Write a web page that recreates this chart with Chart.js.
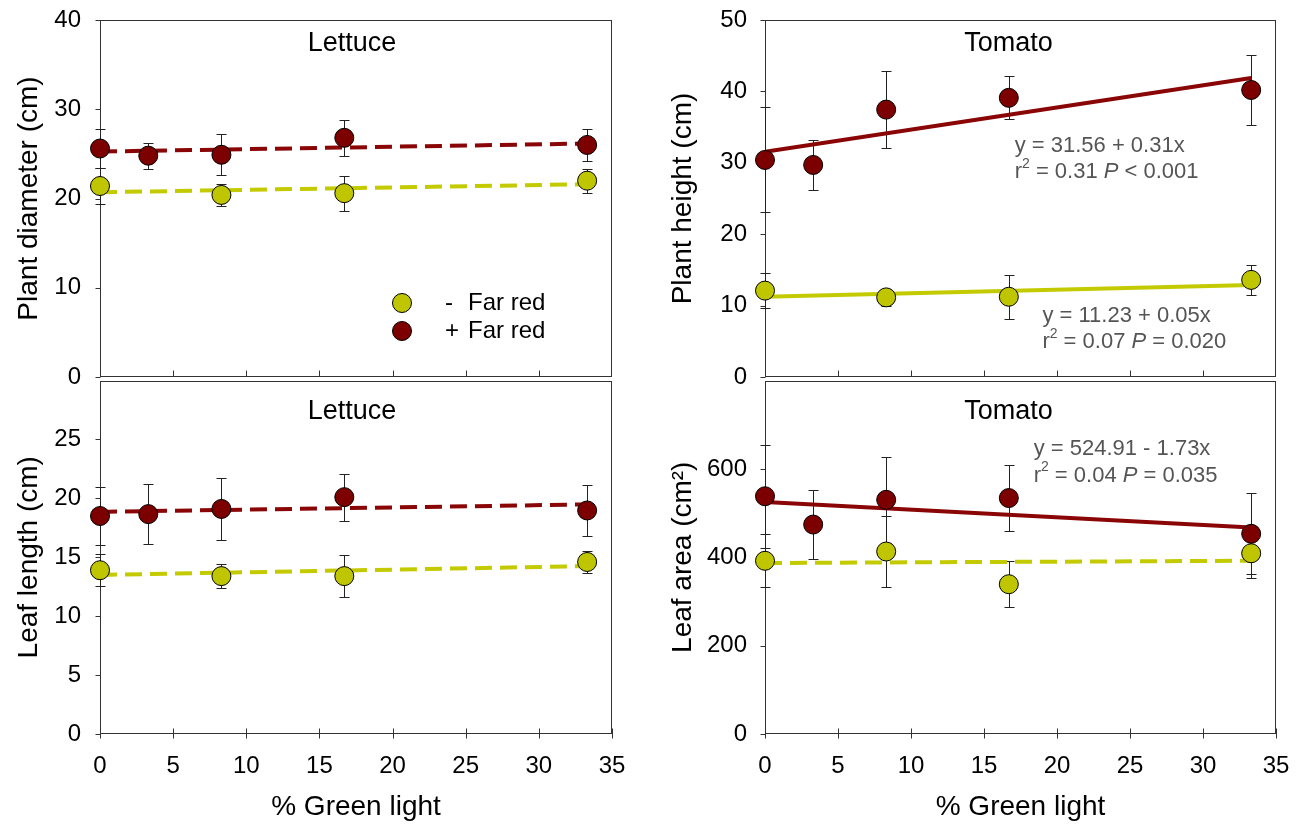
<!DOCTYPE html>
<html><head><meta charset="utf-8">
<script src="https://cdn.jsdelivr.net/npm/chart.js@4"></script>
<style>
html,body{margin:0;padding:0;background:#fff;}
#wrap{position:relative;width:1305px;height:824px;overflow:hidden;background:#fff;}
canvas{position:absolute;}
</style></head><body>
<div id="wrap">
<canvas id="cLT" width="650" height="390" style="left:0;top:0"></canvas>
<canvas id="cRT" width="655" height="390" style="left:650px;top:0"></canvas>
<canvas id="cLB" width="650" height="454" style="left:0;top:370px"></canvas>
<canvas id="cRB" width="655" height="454" style="left:650px;top:370px"></canvas>
</div>
<script>
// ---------- data ----------
const xTickValues = [0, 5, 10, 15, 20, 25, 30, 35];
const xRed   = [0, 3.3, 8.3, 16.7, 33.3];
const xGreen = [0, 8.3, 16.7, 33.3];
const trendX = [0, 33.3];
const seriesLabels = ['-', '+'];
const seriesName = 'Far red';

// Lettuce - plant diameter (cm)
const diamTicks    = [0, 10, 20, 30, 40];
const diamRed      = [25.6, 24.8, 24.9, 26.8, 26.0];
const diamRedErr   = [2.2, 1.45, 2.3, 2.0, 1.8];
const diamGreen    = [21.4, 20.4, 20.6, 22.0];
const diamGreenErr = [2.0, 1.2, 1.95, 1.35];
const diamRedFit   = [25.26, 0.027];   // intercept, slope
const diamGreenFit = [20.7, 0.027];

// Lettuce - leaf length (cm)
const lenTicks    = [0, 5, 10, 15, 20, 25];
const lenRed      = [18.5, 18.66, 19.1, 20.1, 18.97];
const lenRedErr   = [2.5, 2.55, 2.6, 2.0, 2.15];
const lenGreen    = [13.9, 13.4, 13.4, 14.6];
const lenGreenErr = [1.35, 1.05, 1.8, 0.95];
const lenRedFit   = [18.85, 0.019];
const lenGreenFit = [13.5, 0.0225];

// Tomato - plant height (cm)
const htTicks    = [0, 10, 20, 30, 40, 50];
const htRed      = [30.4, 29.7, 37.45, 39.1, 40.2];
const htRedErr   = [7.35, 3.5, 5.4, 3.0, 4.9];
const htGreen    = [12.1, 11.15, 11.24, 13.6];
const htGreenErr = [2.45, 1.2, 3.1, 2.05];
const htRedFit   = [31.56, 0.31];
const htGreenFit = [11.23, 0.05];

// Tomato - leaf area (cm2)
const laTicks    = [0, 200, 400, 600];
const laRed      = [538, 474, 530, 534, 453];
const laRedErr   = [117, 78, 97, 75, 92];
const laGreen    = [392, 413, 339, 409];
const laGreenErr = [60, 81, 52, 55];
const laRedFit   = [524.91, -1.73];
const laGreenFit = [387, 0.15];

// regression annotations: [x, y, text-parts]
const htAnnot = [
  [17.1, 32.4, [['y = 31.56 + 0.31x']]],
  [17.1, 28.7, [['r'], ['2', 'sup'], [' = 0.31 '], ['P', 'i'], [' < 0.001']]],
  [19.0, 8.6,  [['y = 11.23 + 0.05x']]],
  [19.0, 4.9,  [['r'], ['2', 'sup'], [' = 0.07 '], ['P', 'i'], [' = 0.020']]]
];
const laAnnot = [
  [18.4, 644, [['y = 524.91 - 1.73x']]],
  [18.4, 584, [['r'], ['2', 'sup'], [' = 0.04 '], ['P', 'i'], [' = 0.035']]]
];

// ---------- style ----------
const FONT = "'Liberation Sans', Arial, Helvetica, sans-serif";
const RED = '#7d0000';
const GREEN = '#bfc600';
const RED_LINE = '#8a0505';
const GREEN_LINE = '#c3cb00';
const DASH = [17, 8];
const TICK_SIZE = 24;
const TITLE_SIZE = 28;

// ---------- plugins ----------
const framePlugin = {
  id: 'frame',
  beforeDatasetsDraw(chart, args, opts) {
    const {ctx, chartArea: a, scales: {x, y}} = chart;
    ctx.save();
    ctx.strokeStyle = '#333';
    ctx.lineWidth = 1;
    const L = Math.round(a.left) + 0.5, R = Math.round(a.right) - 0.5;
    const T = Math.round(a.top) + 0.5, B = Math.round(a.bottom) - 0.5;
    ctx.strokeRect(L, T, R - L, B - T);
    ctx.beginPath();
    y.ticks.forEach(t => {
      const py = Math.round(y.getPixelForValue(t.value)) + 0.5;
      ctx.moveTo(L - 5, py); ctx.lineTo(L, py);
    });
    x.ticks.forEach((t, i) => {
      const px = Math.round(x.getPixelForValue(t.value)) + 0.5;
      if (opts.bottom) { ctx.moveTo(px, B - 5); ctx.lineTo(px, B + 5); }
      else if (i > 0 && i < x.ticks.length - 1) { ctx.moveTo(px, B - 6); ctx.lineTo(px, B); }
    });
    ctx.stroke();
    ctx.restore();
  }
};

const errorPlugin = {
  id: 'errorBars',
  beforeDatasetsDraw(chart) {
    const {ctx, scales: {x, y}} = chart;
    ctx.save();
    ctx.strokeStyle = '#222';
    ctx.lineWidth = 1;
    ctx.beginPath();
    chart.data.datasets.forEach(ds => {
      if (!ds.errors) return;
      ds.data.forEach((p, j) => {
        const e = ds.errors[j];
        const px = Math.round(x.getPixelForValue(p.x)) + 0.5;
        const y1 = Math.round(y.getPixelForValue(p.y + e)) + 0.5;
        const y2 = Math.round(y.getPixelForValue(p.y - e)) + 0.5;
        ctx.moveTo(px, y1); ctx.lineTo(px, y2);
        ctx.moveTo(px - 5, y1); ctx.lineTo(px + 5, y1);
        ctx.moveTo(px - 5, y2); ctx.lineTo(px + 5, y2);
      });
    });
    ctx.stroke();
    ctx.restore();
  }
};

function drawRich(ctx, parts, x, y, size) {
  let cx = x;
  parts.forEach(p => {
    const sup = p[1] === 'sup', it = p[1] === 'i';
    const fs = sup ? Math.round(size * 0.62) : size;
    ctx.font = (it ? 'italic ' : '') + fs + 'px ' + FONT;
    ctx.fillText(p[0], cx, sup ? y - size * 0.38 : y);
    cx += ctx.measureText(p[0]).width;
  });
}

const textPlugin = {
  id: 'texts',
  afterDatasetsDraw(chart, args, opts) {
    const {ctx, chartArea: a, scales: {x, y}} = chart;
    ctx.save();
    // panel title
    ctx.fillStyle = '#000';
    ctx.textAlign = 'center';
    ctx.textBaseline = 'middle';
    ctx.font = '27px ' + FONT;
    ctx.fillText(opts.title, (a.left + a.right) / 2 + opts.titleDx, a.top + opts.titleDy);
    // annotations
    ctx.textAlign = 'left';
    ctx.fillStyle = '#555';
    (opts.annot || []).forEach(an => {
      drawRich(ctx, an[2], x.getPixelForValue(an[0]), y.getPixelForValue(an[1]), 22);
    });
    // key
    if (opts.key) {
      const items = [[GREEN, seriesLabels[0], 0], [RED, seriesLabels[1], 28]];
      items.forEach(it => {
        const cx = a.left + 302, cy = a.top + 283 + it[2];
        ctx.beginPath();
        ctx.arc(cx, cy, 9.5, 0, Math.PI * 2);
        ctx.fillStyle = it[0];
        ctx.fill();
        ctx.strokeStyle = '#000';
        ctx.lineWidth = 1;
        ctx.stroke();
        ctx.fillStyle = '#000';
        ctx.font = '24px ' + FONT;
        ctx.fillText(it[1], a.left + (it[1] === '-' ? 345 : 345), cy);
        ctx.fillText(seriesName, a.left + 368, cy);
      });
    }
    ctx.restore();
  }
};

// ---------- builder ----------
const pts = (xs, ys) => xs.map((v, i) => ({x: v, y: ys[i]}));
const fitLine = f => trendX.map(v => ({x: v, y: f[0] + f[1] * v}));

function panel(id, o) {
  const zeroPad = s => { s.paddingLeft = 0; s.paddingRight = 0; s.paddingTop = 0; s.paddingBottom = 0; };
  return new Chart(document.getElementById(id), {
    type: 'scatter',
    data: {datasets: [
      {data: pts(xRed, o.red), errors: o.redErr, pointRadius: 9.5, pointHoverRadius: 9.5,
       backgroundColor: RED, borderColor: '#000', borderWidth: 1, order: 0, clip: false},
      {data: pts(xGreen, o.green), errors: o.greenErr, pointRadius: 9.5, pointHoverRadius: 9.5,
       backgroundColor: GREEN, borderColor: '#000', borderWidth: 1, order: 0, clip: false},
      {data: fitLine(o.redFit), showLine: true, pointRadius: 0, borderColor: RED_LINE,
       borderWidth: 4, borderDash: o.redDash ? DASH : [], order: 1},
      {data: fitLine(o.greenFit), showLine: true, pointRadius: 0, borderColor: GREEN_LINE,
       borderWidth: 4, borderDash: o.greenDash ? DASH : [], order: 1}
    ]},
    options: {
      responsive: false, animation: false, devicePixelRatio: 1, events: [],
      layout: {padding: o.pad},
      plugins: {
        legend: {display: false}, tooltip: {enabled: false},
        frame: {bottom: o.bottom},
        texts: {title: o.title, titleDx: o.titleDx, titleDy: o.titleDy, annot: o.annot, key: o.key}
      },
      scales: {
        x: {
          type: 'linear', min: 0, max: 35,
          grid: {display: false, drawTicks: false}, border: {display: false},
          afterBuildTicks: s => { s.ticks = xTickValues.map(v => ({value: v})); },
          ticks: {display: o.bottom, padding: 18, autoSkip: false, maxRotation: 0,
                  font: {family: FONT, size: TICK_SIZE}, color: '#000'},
          title: {display: o.bottom, text: '% Green light', color: '#000',
                  font: {family: FONT, size: TITLE_SIZE}, padding: {top: 0, bottom: 0}},
          afterFit: s => { s.height = o.xh; zeroPad(s); }
        },
        y: {
          type: 'linear', min: 0, max: o.ymax,
          grid: {display: false, drawTicks: false}, border: {display: false},
          afterBuildTicks: s => { s.ticks = o.yTicks.map(v => ({value: v})); },
          ticks: {padding: o.tickPad, autoSkip: false, font: {family: FONT, size: TICK_SIZE}, color: '#000'},
          title: {display: true, text: o.ytitle, color: '#000',
                  font: {family: FONT, size: TITLE_SIZE}, padding: {top: o.titlePad, bottom: 0}},
          afterFit: s => { s.width = o.yw; zeroPad(s); }
        }
      }
    },
    plugins: [framePlugin, errorPlugin, textPlugin]
  });
}

panel('cLT', {red: diamRed, redErr: diamRedErr, green: diamGreen, greenErr: diamGreenErr,
  redFit: diamRedFit, greenFit: diamGreenFit, redDash: true, greenDash: true,
  ymax: 40, yTicks: diamTicks, ytitle: 'Plant diameter (cm)', title: 'Lettuce', titleDx: -4, titleDy: 24,
  bottom: false, key: true, xh: 0, yw: 100, tickPad: 19, titlePad: 12,
  pad: {left: 0, top: 20, right: 38, bottom: 13}});

panel('cLB', {red: lenRed, redErr: lenRedErr, green: lenGreen, greenErr: lenGreenErr,
  redFit: lenRedFit, greenFit: lenGreenFit, redDash: true, greenDash: true,
  ymax: 30, yTicks: lenTicks, ytitle: 'Leaf length (cm)', title: 'Lettuce', titleDx: -4, titleDy: 31,
  bottom: true, key: false, xh: 90, yw: 100, tickPad: 19, titlePad: 12,
  pad: {left: 0, top: 7, right: 38, bottom: 0}});

panel('cRT', {red: htRed, redErr: htRedErr, green: htGreen, greenErr: htGreenErr,
  redFit: htRedFit, greenFit: htGreenFit, redDash: false, greenDash: false,
  ymax: 50, yTicks: htTicks, ytitle: 'Plant height (cm)', title: 'Tomato', titleDx: -12, titleDy: 24,
  bottom: false, key: false, xh: 0, yw: 115, tickPad: 18, titlePad: 16, annot: htAnnot,
  pad: {left: 0, top: 20, right: 29, bottom: 13}});

panel('cRB', {red: laRed, redErr: laRedErr, green: laGreen, greenErr: laGreenErr,
  redFit: laRedFit, greenFit: laGreenFit, redDash: false, greenDash: true,
  ymax: 800, yTicks: laTicks, ytitle: 'Leaf area (cm²)', title: 'Tomato', titleDx: -12, titleDy: 31,
  bottom: true, key: false, xh: 90, yw: 115, tickPad: 18, titlePad: 16, annot: laAnnot,
  pad: {left: 0, top: 7, right: 29, bottom: 0}});
</script>
</body></html>
